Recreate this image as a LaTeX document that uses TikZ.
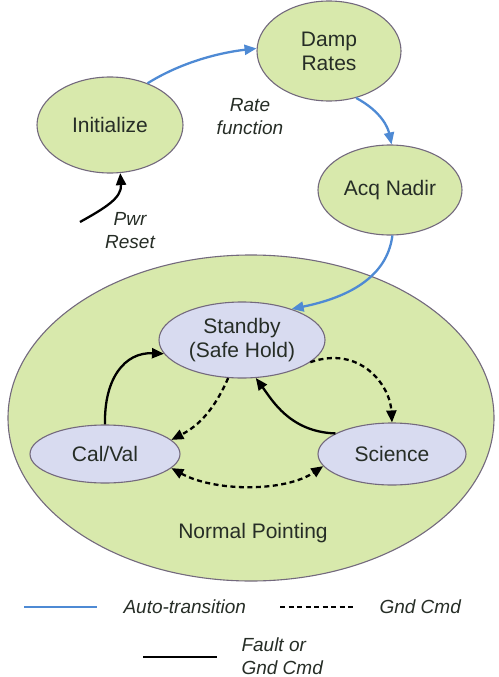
\documentclass[tikz,border=0pt]{standalone}
\usepackage{fontspec}
\setmainfont{Liberation Sans}
\usetikzlibrary{arrows.meta,shapes.geometric}
\definecolor{grn}{RGB}{216,233,172}
\definecolor{lav}{RGB}{216,219,240}
\definecolor{edge}{RGB}{115,105,125}
\definecolor{arrblue}{RGB}{78,138,212}
\definecolor{txt}{RGB}{38,45,38}
\begin{document}
\begin{tikzpicture}[x=1pt,y=-1pt,
  every node/.style={font=\fontsize{21}{24}\selectfont, text=txt},
  gstate/.style={ellipse, draw=edge, fill=grn, line width=1.1pt, inner sep=0pt},
  lstate/.style={ellipse, draw=edge, fill=lav, line width=1.1pt, inner sep=0pt},
  lbl/.style={font=\fontsize{19}{23}\selectfont\itshape, align=center},
  tip/.style={-{Triangle[length=12pt,width=10pt]}},
  auto/.style={draw=arrblue, line width=2.3pt, tip},
  gnd/.style={draw=black, line width=2.3pt, dash pattern=on 5pt off 3.5pt, tip},
  fault/.style={draw=black, line width=2.3pt, tip}
]
\useasboundingbox (0,0) rectangle (498,677);
% outer ellipse
\node[gstate, minimum width=486pt, minimum height=326pt] (np) at (251,418) {};
\node (nptext) at (253,533) {Normal Pointing};
% top states
\node[gstate, minimum width=146pt, minimum height=96pt] (init) at (110,125) {Initialize};
\node[gstate, minimum width=144pt, minimum height=100pt, align=center] (damp) at (329,51) {Damp\\Rates};
\node[gstate, minimum width=144pt, minimum height=90pt] (acq) at (390,190) {Acq Nadir};
% inner states
\node[lstate, minimum width=166pt, minimum height=76pt, align=center] (stby) at (242,340) {Standby\\(Safe Hold)};
\node[lstate, minimum width=150pt, minimum height=58pt] (cal) at (105,454) {Cal/Val};
\node[lstate, minimum width=148pt, minimum height=62pt] (sci) at (392,454) {Science};
% labels
\node[lbl] (rf) at (250,117) {Rate\\function};
\node[lbl] (pwr) at (130,231) {Pwr\\Reset};
\coordinate (pwrstart) at (80,222);
% auto transitions
\draw[auto] (init.48) .. controls (185,60) and (225,52) .. (damp.178);
\draw[auto] (damp.-60) .. controls (382,112) and (388,128) .. (acq.88);
\draw[auto] (acq.-87) .. controls (388,270) and (360,295) .. (stby.32);
% pwr reset
\draw[fault] (pwrstart) .. controls (105,208) and (122,198) .. (init.-78);
% inner transitions
\draw[fault] (cal.90) .. controls (104,378) and (125,352) .. (stby.190);
\draw[gnd] (stby.-110) .. controls (215,408) and (200,425) .. (cal.12);
\draw[gnd] (stby.-18) .. controls (360,345) and (390,385) .. (sci.90);
\draw[fault] (sci.160) .. controls (290,432) and (272,400) .. (stby.-70);
\draw[gnd, {Triangle[length=12pt,width=10pt]}-{Triangle[length=12pt,width=10pt]}] (cal.-12) .. controls (215,492) and (285,492) .. (sci.190);
% legend
\coordinate (l1a) at (24,607); \coordinate (l1b) at (97,607);
\draw[arrblue, line width=1.6pt] (l1a) -- (l1b);
\node[lbl, anchor=west] (l1t) at (120,607) {Auto-transition};
\coordinate (l2a) at (280,607); \coordinate (l2b) at (353,607);
\draw[black, line width=2.2pt, dash pattern=on 5pt off 3.5pt] (l2a) -- (l2b);
\node[lbl, anchor=west] (l2t) at (376,607) {Gnd Cmd};
\coordinate (l3a) at (143,657); \coordinate (l3b) at (217,657);
\draw[black, line width=2.6pt] (l3a) -- (l3b);
\node[lbl, anchor=west, align=left] (l3t) at (238,656) {Fault or\\Gnd Cmd};
\end{tikzpicture}
\end{document}
